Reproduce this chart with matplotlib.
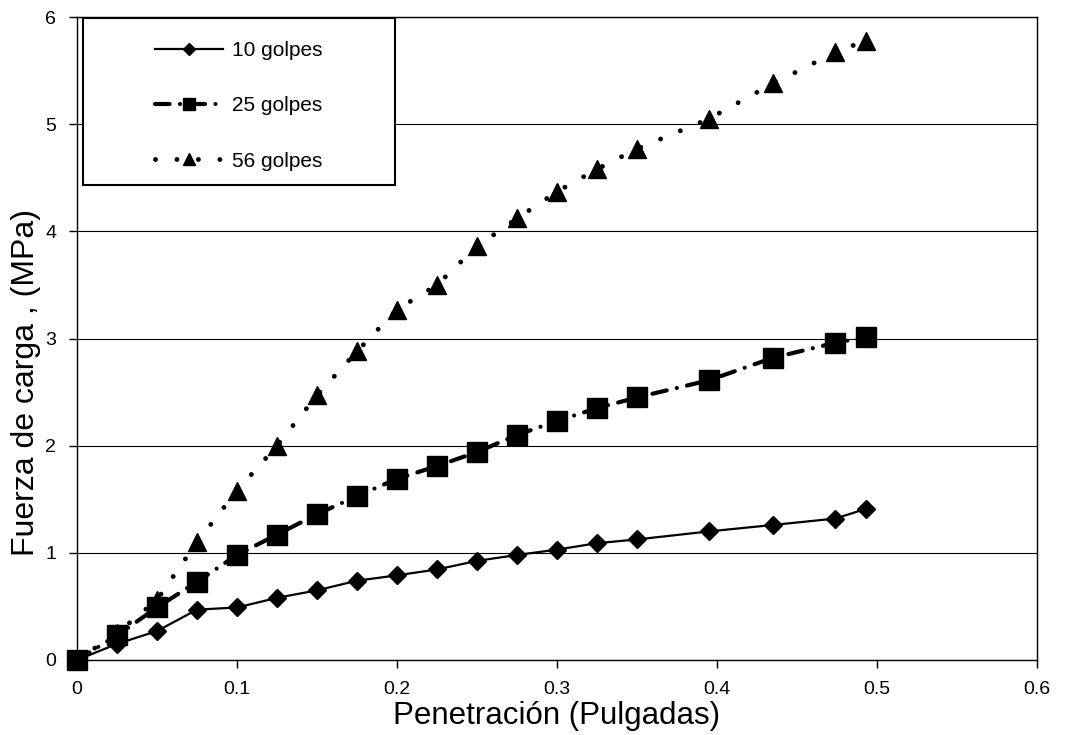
import matplotlib
matplotlib.use("Agg")
import matplotlib.pyplot as plt
from matplotlib.patches import Rectangle

plt.rcParams["font.family"] = ["Liberation Sans", "DejaVu Sans"]

# Penetration (inches) and load (MPa) for each compaction level
penetracion = [0, 0.025, 0.05, 0.075, 0.1, 0.125, 0.15, 0.175, 0.2, 0.225,
               0.25, 0.275, 0.3, 0.325, 0.35, 0.395, 0.435, 0.474, 0.493]
golpes_10 = [0, 0.15, 0.27, 0.47, 0.49, 0.58, 0.65, 0.74, 0.79, 0.845,
             0.925, 0.98, 1.03, 1.09, 1.125, 1.2, 1.26, 1.32, 1.41]
golpes_25 = [0, 0.23, 0.49, 0.73, 0.98, 1.17, 1.36, 1.53, 1.69, 1.81,
             1.94, 2.10, 2.23, 2.35, 2.45, 2.61, 2.82, 2.96, 3.01]
golpes_56 = [0, 0.25, 0.56, 1.10, 1.58, 2.00, 2.47, 2.88, 3.27, 3.50,
             3.86, 4.12, 4.37, 4.58, 4.77, 5.05, 5.38, 5.67, 5.78]

x_ticks = [0, 0.1, 0.2, 0.3, 0.4, 0.5, 0.6]
y_ticks = [0, 1, 2, 3, 4, 5, 6]

fig = plt.figure(figsize=(10.66, 7.35), dpi=100)
ax = fig.add_axes([77 / 1066, 1 - 660 / 735, 960 / 1066, 643 / 735])

ax.plot(penetracion, golpes_10, color="black", lw=1.6, marker="D", ms=9,
        label="10 golpes", clip_on=False, zorder=4)
ax.plot(penetracion, golpes_25, color="black", lw=3, marker="s", ms=14,
        dashes=(3.5, 2.5, 0.01, 2.5), dash_capstyle="round",
        label="25 golpes", clip_on=False, zorder=3)
ax.plot(penetracion, golpes_56, color="black", lw=3.5, marker="^", ms=13.5,
        dashes=(0.01, 4.4), dash_capstyle="round",
        label="56 golpes", clip_on=False, zorder=3)

ax.set_xlim(0, 0.6)
ax.set_ylim(0, 6)
ax.set_xticks(x_ticks)
ax.set_xticklabels([f"{t:g}" for t in x_ticks])
ax.set_yticks(y_ticks)
ax.tick_params(direction="out", length=6, width=1, labelsize=14, pad=9)
ax.yaxis.grid(True, color="black", lw=0.8)
ax.set_axisbelow(True)
for s in ax.spines.values():
    s.set_linewidth(1)

ax.set_xlabel("Penetración (Pulgadas)", fontsize=22.5, labelpad=2)
ax.set_ylabel("Fuerza de carga , (MPa)", fontsize=23)
ax.yaxis.set_label_coords(-0.038, 0.432)

# legend frame drawn as a white box over the grid
ax.add_patch(Rectangle((0.00625, 0.7387), 0.325, 0.2597, transform=ax.transAxes,
                       facecolor="white", edgecolor="black", lw=1.5, zorder=5,
                       clip_on=False))
leg = ax.legend(loc="upper left", bbox_to_anchor=(0.08125, 0.9623), frameon=False,
                fontsize=15, handlelength=3.26, handletextpad=0.43,
                labelspacing=1.74, borderpad=0, borderaxespad=0, numpoints=1,
                markerscale=0.65)
leg.set_zorder(6)

fig.savefig("out.png", dpi=100)
